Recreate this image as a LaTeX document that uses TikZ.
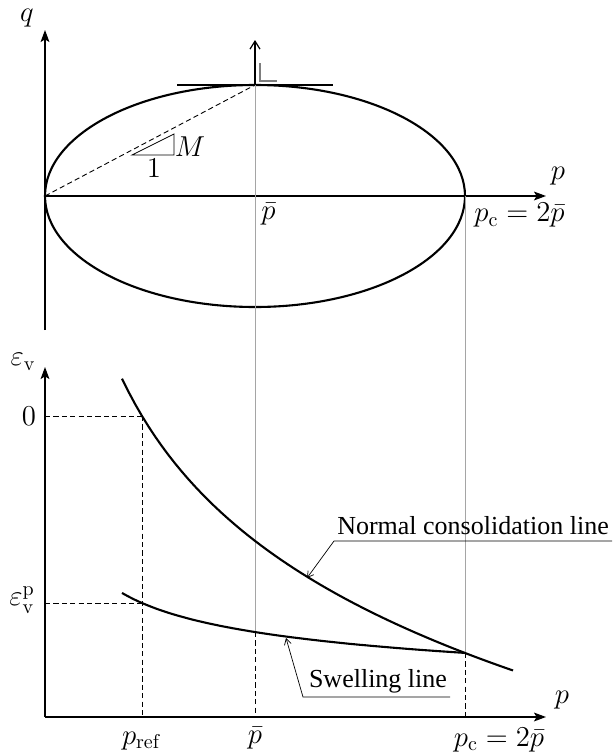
\documentclass[tikz,border=0pt]{standalone}
\usepackage{fontspec}
\newfontfamily\notefont{Liberation Serif}
\definecolor{guidegray}{RGB}{165,165,165}
\definecolor{markgray}{RGB}{125,125,125}
\usetikzlibrary{arrows.meta,positioning,calc}

\begin{document}
\begin{tikzpicture}[x=0.5pt, y=-0.5pt,
    axis/.style={-{Stealth[length=6pt, width=4.4pt, inset=1.3pt]}, line width=0.7pt},
    curve/.style={line width=1.05pt},
    guide/.style={guidegray, line width=0.35pt},
    proj/.style={line width=0.45pt, dash pattern=on 2.6pt off 1.6pt},
    note/.style={line width=0.35pt, -{Straight Barb[length=3pt, width=3.5pt]}},
    mlab/.style={font=\Large, inner sep=1pt},
    tlab/.style={font=\notefont\fontsize{13}{15}\selectfont, inner sep=1pt}
  ]
    \useasboundingbox (0,0) rectangle (614,755);

    % q--p plane: yield ellipse
    \draw[curve] (255,196) ellipse [x radius=210, y radius=111];
    \draw[line width=0.45pt, dash pattern=on 2.6pt off 1.6pt] (45,196) -- (255,85);
    \draw[line width=0.4pt] (132,155) -- (174,155) -- (174,134) -- cycle;
    \draw[line width=0.6pt] (177,85) -- (333,85);
    \draw[line width=0.6pt, -{Straight Barb[length=4pt, width=5pt]}] (255,85) -- (255,40);
    \draw[markgray, line width=0.75pt] (260,63) |- (277,81);

    % Axes
    \draw[axis] (45,330) -- (45,30);
    \draw[axis] (45,196) -- (546,196);
    \draw[axis] (45,717) -- (45,367);
    \draw[axis] (45,717) -- (546,717);

    % Guide lines between the two planes
    \draw[guide] (255,85) -- (255,632);
    \draw[guide] (465,196) -- (465,653);
    \draw[proj] (255,632) -- (255,717);
    \draw[proj] (465,653) -- (465,717);
    \draw[proj] (142,416) -- (142,717);
    \draw[proj] (45,416) -- (142,416);
    \draw[proj] (45,603) -- (142,603);

    % Normal consolidation and swelling lines
    \draw[curve, domain=122:513, samples=60] plot (\x, {416+161.7*ln((\x-45)/97)});
    \draw[curve, domain=122:465, samples=60] plot (\x, {743.3-553.4*exp(-0.3*ln(\x-45))});

    % Pointers to the lines
    \coordinate (nclend)  at (612,541);
    \coordinate (nclkink) at (334,541);
    \coordinate (ncltip)  at (307,578);
    \coordinate (swlend)  at (450,697);
    \coordinate (swlkink) at (303,697);
    \coordinate (swltip)  at (286,638);
    \draw[note] (nclend) -- (nclkink) -- (ncltip);
    \draw[note] (swlend) -- (swlkink) -- (swltip);
    \node[tlab] (ncl) at (473,526) {Normal consolidation line};
    \node[tlab] (swl) at (378,681) {Swelling line};

    % Labels
    \node[mlab] (qlab)   at (27,18)  {$q$};
    \node[mlab] (ptop)   at (558,176) {$p$};
    \node[mlab, anchor=north west] (pbartop) at (259,201) {$\bar{p}$};
    \node[mlab, anchor=north west] (pctop)   at (472,201) {$p_{\mathrm{c}}=2\bar{p}$};
    \node[mlab] (mlab1)  at (190,147) {$M$};
    \node[mlab] (onelab) at (154,168) {$1$};
    \node[mlab] (evlab)  at (23,362) {$\varepsilon_{\mathrm{v}}$};
    \node[mlab] (zerolab) at (29,416) {$0$};
    \node[mlab] (evplab) at (22,600) {$\varepsilon_{\mathrm{v}}^{\mathrm{p}}$};
    \node[mlab] (pbot)   at (562,700) {$p$};
    \node[mlab] (preflab) at (141,741) {$p_{\mathrm{ref}}$};
    \node[mlab] (pbarbot) at (255,738) {$\bar{p}$};
    \node[mlab] (pcbot)   at (499,740) {$p_{\mathrm{c}}=2\bar{p}$};
  \end{tikzpicture}
\end{document}
